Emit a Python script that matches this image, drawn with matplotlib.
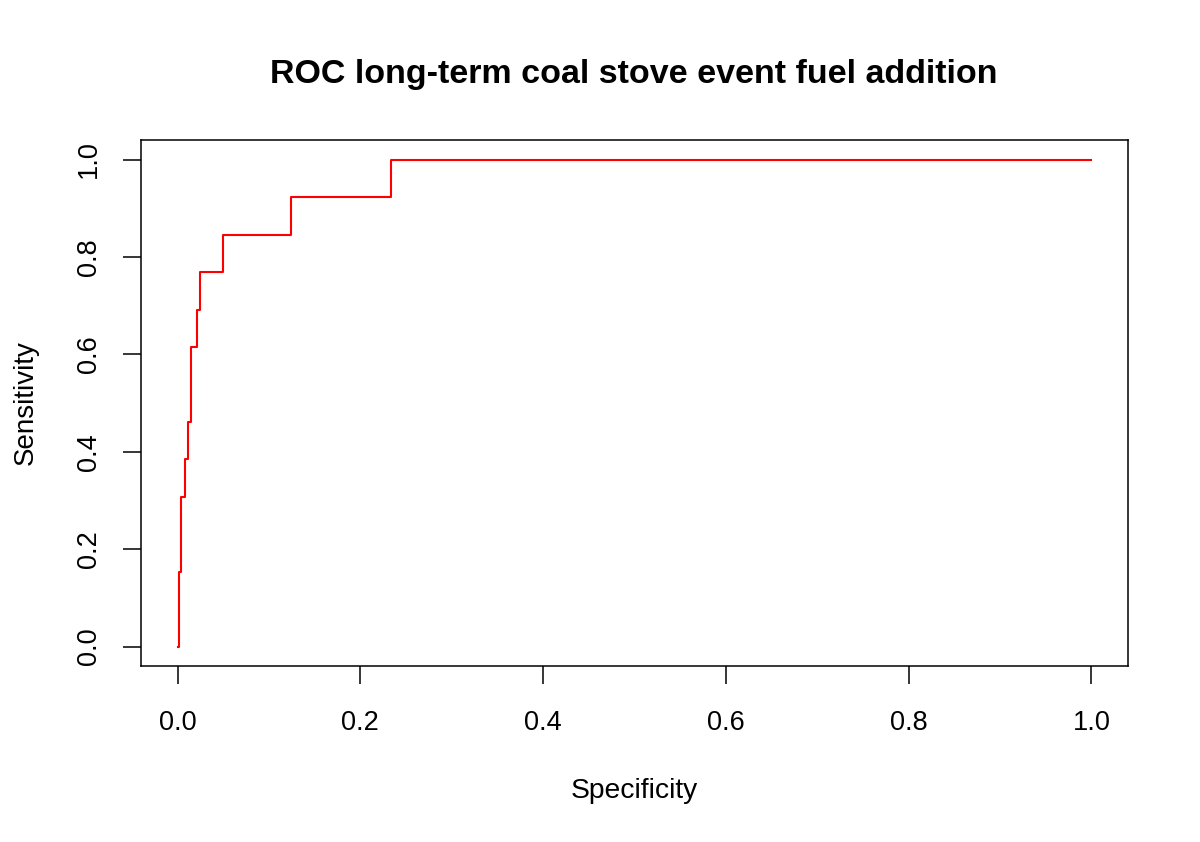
import matplotlib
matplotlib.use("Agg")
import matplotlib.pyplot as plt

plt.rcParams['font.family'] = ['Liberation Sans', 'DejaVu Sans']

# Step corners of the ROC curve (steps-post)
spec_x = [0.001, 0.002, 0.0035, 0.008, 0.0113, 0.0142, 0.0208, 0.025, 0.050, 0.124, 0.234, 1.0]
sens_y = [0.0, 0.154, 0.308, 0.385, 0.462, 0.615, 0.692, 0.769, 0.846, 0.923, 1.0, 1.0]
x_ticks = [0.0, 0.2, 0.4, 0.6, 0.8, 1.0]
y_ticks = [0.0, 0.2, 0.4, 0.6, 0.8, 1.0]

fig = plt.figure(figsize=(12, 8.42), dpi=100)
ax = fig.add_axes([0.1175, 0.209, 0.8225, 0.6247])
ax.step(spec_x, sens_y, where='post', color='#ff0000', lw=1.5)
ax.set_xlim(-0.04, 1.04)
ax.set_ylim(-0.04, 1.04)
ax.set_xticks(x_ticks)
ax.set_yticks(y_ticks)
ax.set_xticklabels([f"{v:.1f}" for v in x_ticks])
ax.set_yticklabels([f"{v:.1f}" for v in y_ticks], rotation=90, va='center')
ax.tick_params(length=13, width=1.1, labelsize=19.5)
ax.tick_params(axis='x', pad=19)
ax.tick_params(axis='y', pad=15)
for s in ax.spines.values():
    s.set_linewidth(1.1)
ax.set_xlabel("Specificity", fontsize=20.3, labelpad=30)
ax.set_ylabel("Sensitivity", fontsize=20, labelpad=27)
fig.text(634 / 1200, 0.912, "ROC long-term coal stove event fuel addition",
         ha='center', va='center', fontsize=24.5, fontweight='bold')
fig.savefig("out.png", dpi=100)
